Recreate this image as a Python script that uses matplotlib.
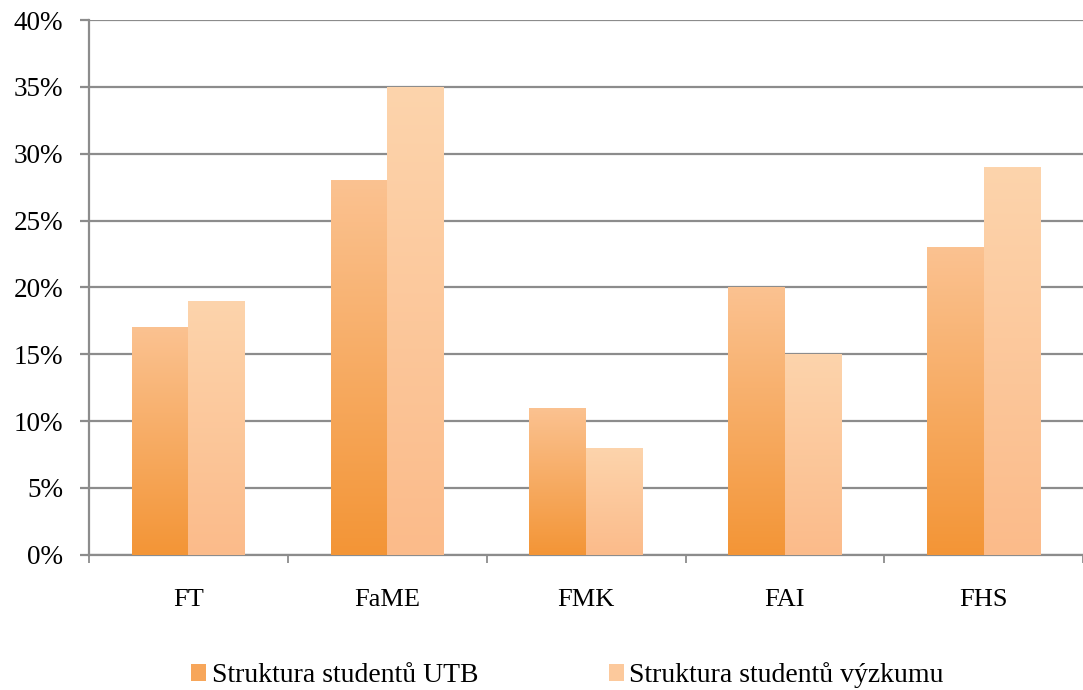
import matplotlib
matplotlib.use("Agg")
import matplotlib.pyplot as plt
import numpy as np
from matplotlib.colors import LinearSegmentedColormap
from matplotlib.ticker import FixedLocator, PercentFormatter

# data
faculties = ["FT", "FaME", "FMK", "FAI", "FHS"]
utb = [17, 28, 11, 20, 23]
vyzkum = [19, 35, 8, 15, 29]
series_names = ["Struktura studentů UTB", "Struktura studentů výzkumu"]

plt.rcParams["font.family"] = ["Liberation Serif", "DejaVu Serif"]

fig = plt.figure(figsize=(10.83, 6.9), dpi=100)
ax = fig.add_axes([0.0822, 0.196, 0.918, 0.775])

x = np.arange(len(faculties))
w = 0.285
grid_c = "#8c8c8c"

# bottom -> top gradient colours for each series
grads = [
    LinearSegmentedColormap.from_list("s1", ["#f39536", "#fbc291"]),
    LinearSegmentedColormap.from_list("s2", ["#fbbb8a", "#fdd4ac"]),
]
solid = ["#f7a65a", "#fcc99c"]

bars1 = ax.bar(x - w / 2, utb, w, color=solid[0], zorder=3, label=series_names[0])
bars2 = ax.bar(x + w / 2, vyzkum, w, color=solid[1], zorder=3, label=series_names[1])

grad = np.linspace(0, 1, 256).reshape(-1, 1)
for bars, cmap in zip([bars1, bars2], grads):
    for p in bars:
        x0, y0 = p.get_x(), p.get_y()
        x1, y1 = x0 + p.get_width(), y0 + p.get_height()
        im = ax.imshow(grad, cmap=cmap, origin="lower", aspect="auto",
                       extent=[x0, x1, y0, y1], zorder=4)
        im.set_clip_path(p)

ax.set_xlim(-0.5, len(faculties) - 0.5)
ax.set_ylim(0, 40)
ax.set_yticks(np.arange(0, 41, 5))
ax.yaxis.set_major_formatter(PercentFormatter(decimals=0))
ax.grid(axis="y", color=grid_c, linewidth=1.6, zorder=1)

# tick marks between categories, labels centred under groups
ax.xaxis.set_major_locator(FixedLocator(np.arange(len(faculties) + 1) - 0.5))
ax.xaxis.set_minor_locator(FixedLocator(x))
ax.set_xticklabels([""] * (len(faculties) + 1))
ax.set_xticklabels(faculties, minor=True)
ax.tick_params(axis="x", which="major", length=6, width=1.3, color=grid_c)
ax.tick_params(axis="x", which="minor", length=0, pad=25, labelsize=19)
ax.tick_params(axis="y", length=6.5, width=1.6, color=grid_c, labelsize=19.5, pad=12)

for s in ["top", "right"]:
    ax.spines[s].set_visible(False)
for s in ["left", "bottom"]:
    ax.spines[s].set_color(grid_c)
    ax.spines[s].set_linewidth(1.6)

leg = fig.legend(handles=[bars1, bars2], labels=series_names, loc="lower center",
                 bbox_to_anchor=(0.524, -0.034), ncol=2, frameon=False, fontsize=20,
                 handlelength=0.54, handleheight=0.54, handletextpad=0.2,
                 columnspacing=4.7)

fig.savefig("out.png", dpi=100)
